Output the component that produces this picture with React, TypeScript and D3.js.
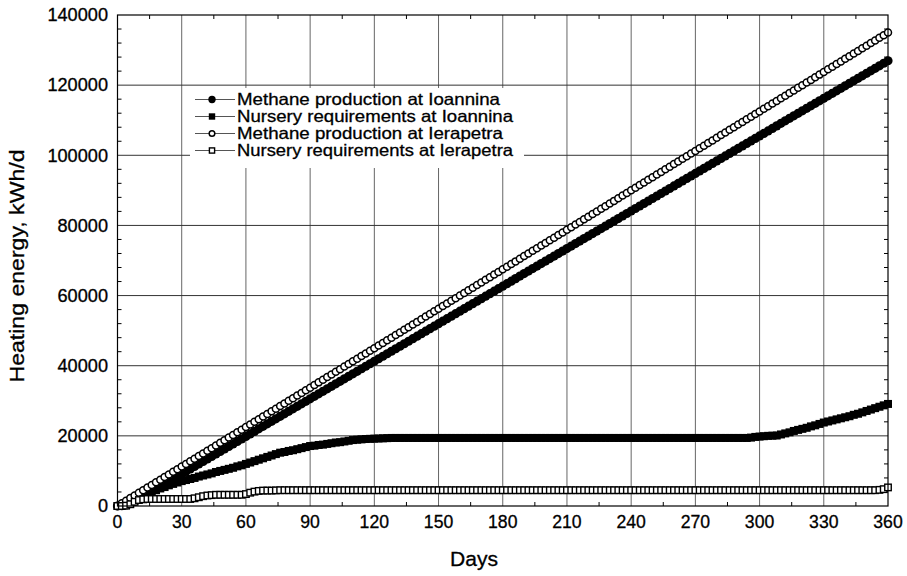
import React from "react";
import * as d3 from "d3";

// Days (every second day, 0..360)
const DAYS: number[] = d3.range(0, 361, 2);

const X_TICKS = [0, 30, 60, 90, 120, 150, 180, 210, 240, 270, 300, 330, 360];
const Y_TICKS = [0, 20000, 40000, 60000, 80000, 100000, 120000, 140000];

// Methane production at Ioannina (kWh/d)
const METHANE_IOANNINA = [
  0, 100, 300, 700, 1300,
  2000, 2714, 3428, 4142, 4856, 5570, 6284, 6998, 7712, 8426,
  9140, 9854, 10568, 11282, 11996, 12710, 13424, 14138, 14852, 15566,
  16280, 16994, 17708, 18422, 19136, 19850, 20564, 21278, 21992, 22706,
  23420, 24134, 24848, 25562, 26276, 26990, 27704, 28418, 29132, 29846,
  30560, 31274, 31988, 32702, 33416, 34130, 34844, 35558, 36272, 36986,
  37700, 38414, 39128, 39842, 40556, 41270, 41984, 42698, 43412, 44126,
  44840, 45554, 46268, 46982, 47696, 48410, 49124, 49838, 50552, 51266,
  51980, 52694, 53408, 54122, 54836, 55550, 56264, 56978, 57692, 58406,
  59120, 59834, 60548, 61262, 61976, 62690, 63404, 64118, 64832, 65546,
  66260, 66974, 67688, 68402, 69116, 69830, 70544, 71258, 71972, 72686,
  73400, 74114, 74828, 75542, 76256, 76970, 77684, 78398, 79112, 79826,
  80540, 81254, 81968, 82682, 83396, 84110, 84824, 85538, 86252, 86966,
  87680, 88394, 89108, 89822, 90536, 91250, 91964, 92678, 93392, 94106,
  94820, 95534, 96248, 96962, 97676, 98390, 99104, 99818, 100532, 101246,
  101960, 102674, 103388, 104102, 104816, 105530, 106244, 106958, 107672, 108386,
  109100, 109814, 110528, 111242, 111956, 112670, 113384, 114098, 114812, 115526,
  116240, 116954, 117668, 118382, 119096, 119810, 120524, 121238, 121952, 122666,
  123380, 124094, 124808, 125522, 126236, 126950,
];

// Nursery requirements at Ioannina (kWh/d)
const NURSERY_IOANNINA = [
  0, 300, 800, 1400, 2000, 2500, 3000, 3500, 4000, 4500,
  5000, 5400, 5900, 6300, 6700, 7100, 7400, 7700, 8000, 8400,
  8700, 9000, 9300, 9700, 10000, 10300, 10600, 10900, 11300, 11600,
  12000, 12400, 12800, 13200, 13600, 14000, 14400, 14800, 15200, 15400,
  15700, 15900, 16200, 16500, 16800, 17100, 17200, 17400, 17500, 17700,
  17900, 18100, 18200, 18400, 18600, 18800, 18900, 19000, 19100, 19150,
  19200, 19250, 19300, 19350,
  19400, 19400, 19400, 19400, 19400, 19400, 19400, 19400, 19400, 19400, 19400, 19400,
  19400, 19400, 19400, 19400, 19400, 19400, 19400, 19400, 19400, 19400, 19400, 19400,
  19400, 19400, 19400, 19400, 19400, 19400, 19400, 19400, 19400, 19400, 19400, 19400,
  19400, 19400, 19400, 19400, 19400, 19400, 19400, 19400, 19400, 19400, 19400, 19400,
  19400, 19400, 19400, 19400, 19400, 19400, 19400, 19400, 19400, 19400, 19400, 19400,
  19400, 19400, 19400, 19400, 19400, 19400, 19400, 19400, 19400, 19400, 19400, 19400,
  19400, 19400, 19400, 19400, 19400, 19400, 19400, 19400, 19400, 19400, 19400, 19400,
  19500, 19700, 19800, 19900, 20000, 20050, 20100, 20400, 20700, 21000,
  21400, 21700, 22000, 22300, 22700, 23000, 23400, 23800, 24100, 24400,
  24700, 25000, 25300, 25600, 26000, 26300, 26700, 27100, 27500, 27900,
  28300, 28700, 29100,
];

// Methane production at Ierapetra (kWh/d)
const METHANE_IERAPETRA = [
  0, 750, 1500, 2250, 3000, 3750, 4500, 5250, 6000, 6750,
  7500, 8250, 9000, 9750, 10500, 11250, 12000, 12750, 13500, 14250,
  15000, 15750, 16500, 17250, 18000, 18750, 19500, 20250, 21000, 21750,
  22500, 23250, 24000, 24750, 25500, 26250, 27000, 27750, 28500, 29250,
  30000, 30750, 31500, 32250, 33000, 33750, 34500, 35250, 36000, 36750,
  37500, 38250, 39000, 39750, 40500, 41250, 42000, 42750, 43500, 44250,
  45000, 45750, 46500, 47250, 48000, 48750, 49500, 50250, 51000, 51750,
  52500, 53250, 54000, 54750, 55500, 56250, 57000, 57750, 58500, 59250,
  60000, 60750, 61500, 62250, 63000, 63750, 64500, 65250, 66000, 66750,
  67500, 68250, 69000, 69750, 70500, 71250, 72000, 72750, 73500, 74250,
  75000, 75750, 76500, 77250, 78000, 78750, 79500, 80250, 81000, 81750,
  82500, 83250, 84000, 84750, 85500, 86250, 87000, 87750, 88500, 89250,
  90000, 90750, 91500, 92250, 93000, 93750, 94500, 95250, 96000, 96750,
  97500, 98250, 99000, 99750, 100500, 101250, 102000, 102750, 103500, 104250,
  105000, 105750, 106500, 107250, 108000, 108750, 109500, 110250, 111000, 111750,
  112500, 113250, 114000, 114750, 115500, 116250, 117000, 117750, 118500, 119250,
  120000, 120750, 121500, 122250, 123000, 123750, 124500, 125250, 126000, 126750,
  127500, 128250, 129000, 129750, 130500, 131250, 132000, 132750, 133500, 134250,
  135000,
];

// Nursery requirements at Ierapetra (kWh/d)
const NURSERY_IERAPETRA = [
  0, 0, 100, 500, 1200, 1700, 1900,
  2000, 2000, 2000, 2000, 2000, 2000, 2000, 2000, 2000, 2000, 2000,
  2200, 2500, 2800, 3000, 3100,
  3200, 3200, 3200, 3200, 3200, 3200, 3200,
  3400, 3800, 4100, 4300,
  4400, 4400, 4400, 4450,
  4500, 4500, 4500, 4500, 4500, 4500, 4500, 4500, 4500, 4500,
  4500, 4500, 4500, 4500, 4500, 4500, 4500, 4500, 4500, 4500,
  4500, 4500, 4500, 4500, 4500, 4500, 4500, 4500, 4500, 4500,
  4500, 4500, 4500, 4500, 4500, 4500, 4500, 4500, 4500, 4500,
  4500, 4500, 4500, 4500, 4500, 4500, 4500, 4500, 4500, 4500,
  4500, 4500, 4500, 4500, 4500, 4500, 4500, 4500, 4500, 4500,
  4500, 4500, 4500, 4500, 4500, 4500, 4500, 4500, 4500, 4500,
  4500, 4500, 4500, 4500, 4500, 4500, 4500, 4500, 4500, 4500,
  4500, 4500, 4500, 4500, 4500, 4500, 4500, 4500, 4500, 4500,
  4500, 4500, 4500, 4500, 4500, 4500, 4500, 4500, 4500, 4500,
  4500, 4500, 4500, 4500, 4500, 4500, 4500, 4500, 4500, 4500,
  4500, 4500, 4500, 4500, 4500, 4500, 4500, 4500, 4500, 4500,
  4500, 4500, 4500, 4500, 4500, 4500, 4500, 4500, 4500, 4500,
  4500, 4500, 4500, 4500, 4500, 4500, 4500, 4500, 4500, 4500,
  4600, 4800, 5300,
];

const LEGEND_LABELS = [
  "Methane production at Ioannina",
  "Nursery requirements at Ioannina",
  "Methane production at Ierapetra",
  "Nursery requirements at Ierapetra",
];
const LEGEND_WIDTHS = [263, 276, 266, 276];

const FONT = "'Liberation Sans', Arial, Helvetica, sans-serif";
const W = 907;
const H = 576;
const X0 = 117.5;
const X1 = 888;
const Y0 = 506;
const Y1 = 15;

type Kind = "filledCircle" | "filledSquare" | "openCircle" | "openSquare";
const SERIES: { values: number[]; kind: Kind }[] = [
  { values: METHANE_IOANNINA, kind: "filledCircle" },
  { values: NURSERY_IOANNINA, kind: "filledSquare" },
  { values: METHANE_IERAPETRA, kind: "openCircle" },
  { values: NURSERY_IERAPETRA, kind: "openSquare" },
];

function Marker({ kind, x, y, k }: { kind: Kind; x: number; y: number; k?: number }) {
  const s = k ?? 1;
  if (kind === "filledCircle") return <circle cx={x} cy={y} r={4.6 * s} fill="#000" />;
  if (kind === "filledSquare") {
    const a = 8 * s;
    return <rect x={x - a / 2} y={y - a / 2} width={a} height={a} fill="#000" />;
  }
  if (kind === "openCircle")
    return <circle cx={x} cy={y} r={3.5 * s} fill="#fff" stroke="#000" strokeWidth={1.5} />;
  const a = 6.5 * s;
  return <rect x={x - a / 2} y={y - a / 2} width={a} height={a} fill="#fff" stroke="#000" strokeWidth={1.4} />;
}

export default function App() {
  const x = d3.scaleLinear().domain([0, 360]).range([X0, X1]);
  const y = d3.scaleLinear().domain([0, 140000]).range([Y0, Y1]);
  const line = d3
    .line<number>()
    .x((_, i) => x(DAYS[i]))
    .y((v) => y(v));

  const xMinor = d3.range(15, 360, 30);
  const yMinor = d3.range(0, 140001, 4000).filter((v) => v % 20000 !== 0);

  const legendRows = [99.5, 116.5, 133.5, 150.5];
  const txt = { fill: "#000", stroke: "#000", strokeWidth: 0.3 };

  return (
    <svg
      width={W}
      height={H}
      style={{ position: "absolute", left: 0, top: 0, background: "#fff" }}
      fontFamily={FONT}
    >
      <rect x={0} y={0} width={W} height={H} fill="#fff" />
      {/* grid */}
      {X_TICKS.slice(1, -1).map((t) => (
        <line key={"gx" + t} x1={x(t)} x2={x(t)} y1={Y1} y2={Y0} stroke="#666" strokeWidth={1} />
      ))}
      {Y_TICKS.slice(1, -1).map((t) => (
        <line key={"gy" + t} x1={X0} x2={X1} y1={y(t)} y2={y(t)} stroke="#333" strokeWidth={1} />
      ))}
      {/* minor ticks, inside on all sides */}
      {xMinor.map((t) => (
        <g key={"mx" + t}>
          <line x1={x(t)} x2={x(t)} y1={Y0} y2={Y0 - 4} stroke="#000" />
          <line x1={x(t)} x2={x(t)} y1={Y1} y2={Y1 + 4} stroke="#000" />
        </g>
      ))}
      {yMinor.map((t) => (
        <g key={"my" + t}>
          <line x1={X0} x2={X0 + 4} y1={y(t)} y2={y(t)} stroke="#000" />
          <line x1={X1} x2={X1 - 4} y1={y(t)} y2={y(t)} stroke="#000" />
        </g>
      ))}
      {/* legend background */}
      <rect x={190} y={88} width={334} height={80} fill="#fff" />
      {/* series */}
      {SERIES.map((s, si) => (
        <g key={"s" + si}>
          <path d={line(s.values) || ""} fill="none" stroke="#000" strokeWidth={1} />
          {s.values.map((v, i) => (
            <Marker key={i} kind={s.kind} x={x(DAYS[i])} y={y(v)} />
          ))}
        </g>
      ))}
      {/* frame */}
      <rect x={X0} y={Y1} width={X1 - X0} height={Y0 - Y1} fill="none" stroke="#000" strokeWidth={1.2} />
      {/* tick labels */}
      {X_TICKS.map((t) => (
        <text
          key={"xl" + t}
          x={x(t)}
          y={528}
          textAnchor="middle"
          fontSize={17.5}
          textLength={String(t).length * 9.8}
          lengthAdjust="spacingAndGlyphs"
          {...txt}
        >
          {t}
        </text>
      ))}
      {Y_TICKS.map((t) => (
        <text
          key={"yl" + t}
          x={108}
          y={y(t) + 6.3}
          textAnchor="end"
          fontSize={17.5}
          textLength={String(t).length * 10.1}
          lengthAdjust="spacingAndGlyphs"
          {...txt}
        >
          {t}
        </text>
      ))}
      {/* axis titles */}
      <text
        x={474}
        y={566}
        textAnchor="middle"
        fontSize={20.5}
        textLength={48}
        lengthAdjust="spacingAndGlyphs"
        {...txt}
      >
        Days
      </text>
      <text
        transform={`translate(24,266) rotate(-90)`}
        textAnchor="middle"
        fontSize={20.5}
        textLength={233}
        lengthAdjust="spacingAndGlyphs"
        {...txt}
      >
        Heating energy, kWh/d
      </text>
      {/* legend */}
      {LEGEND_LABELS.map((lab, i) => (
        <g key={"lg" + i}>
          <line x1={195} x2={235} y1={legendRows[i]} y2={legendRows[i]} stroke="#555" strokeWidth={1} />
          <Marker kind={SERIES[i].kind} x={212} y={legendRows[i]} k={0.8} />
          <text
            x={237}
            y={legendRows[i] + 5.7}
            fontSize={16.5}
            textLength={LEGEND_WIDTHS[i]}
            lengthAdjust="spacingAndGlyphs"
            {...txt}
          >
            {lab}
          </text>
        </g>
      ))}
    </svg>
  );
}
